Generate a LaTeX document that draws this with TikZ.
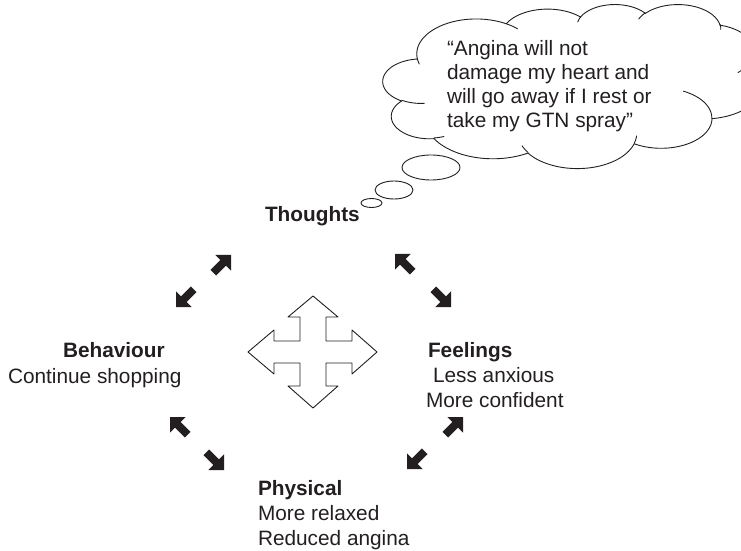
\documentclass[tikz,border=0pt]{standalone}
\usepackage{fontspec}
\setmainfont{Liberation Sans}
\definecolor{ink}{HTML}{231F20}

% Cloud outline geometry (unit box), one elliptic arc per puff.
% #1,#2 = radii, #3 = start angle, #4 = sweep (visual angles, y downwards).
\def\cloudX{383}\def\cloudY{4}\def\cloudW{380}\def\cloudH{164}
\newcommand\cloudarc[4]{%
  \pgfmathsetmacro\tA{atan2((#1)*sin(#3),(#2)*cos(#3))}%
  \pgfmathsetmacro\tB{atan2((#1)*sin((#3)+(#4)),(#2)*cos((#3)+(#4)))}%
  \pgfmathsetmacro\tB{\tB<\tA ? \tB+360 : \tB}%
  \pgfmathsetmacro\ccx{\cpx-(#1)*cos(\tA)}%
  \pgfmathsetmacro\ccy{\cpy-(#2)*sin(\tA)}%
  \draw[outl] plot[domain=\tA:\tB, samples=40, smooth]
    ({\cloudX+\cloudW*(\ccx+(#1)*cos(\x))},{\cloudY+\cloudH*(\ccy+(#2)*sin(\x))});%
  \pgfmathsetmacro\cpx{\ccx+(#1)*cos(\tB)}%
  \pgfmathsetmacro\cpy{\ccy+(#2)*sin(\tB)}%
}
\newcommand\cloudstroke[6]{%
  \def\cpx{#1}\def\cpy{#2}\cloudarc{#3}{#4}{#5}{#6}}

\begin{document}
\begin{tikzpicture}[x=1bp,y=-1bp,line join=round,line cap=round]
\tikzset{
  lbl/.style={anchor=base west,inner sep=0pt,outer sep=0pt,text=ink,
    font=\fontsize{20.8bp}{25bp}\selectfont},
  hd/.style={lbl,font=\fontsize{20.8bp}{25bp}\selectfont\bfseries},
  outl/.style={draw=ink,line width=0.9bp},
  blockarr/.pic={\fill[ink] (0,0) -- (-11,11) -- (-11,4) -- (-25,4)
      -- (-25,-4) -- (-11,-4) -- (-11,-11) -- cycle;}
}
\useasboundingbox (0,0) rectangle (741,551);
\clip (0,0) rectangle (741,551);

% thought cloud outline
\def\cpx{0.090278}\def\cpy{0.332639}
\cloudarc{0.156319}{0.212731}{-190.4875}{123.7805}
\cloudarc{0.123449}{0.168218}{-144.1024}{89.9452}
\cloudarc{0.101042}{0.137616}{-145.8079}{99.7230}
\cloudarc{0.112431}{0.152662}{-130.9861}{117.2417}
\cloudarc{0.123449}{0.168356}{-78.7089}{109.0269}
\cloudarc{0.156829}{0.213426}{-46.2673}{130.2690}
\cloudarc{0.133912}{0.182106}{0.6250}{114.0333}
\cloudarc{0.156296}{0.213310}{22.4516}{115.1726}
\cloudarc{0.178704}{0.244051}{66.2426}{75.7110}
\cloudarc{0.100926}{0.136991}{-274.9421}{146.7356}
\cloudarc{0.100579}{0.137616}{-246.8285}{152.5189}

% short inner strokes at the notches
\cloudstroke{0.108634}{0.605949}{0.100579}{0.137616}{86.7420}{26.4295}
\cloudstroke{0.160370}{0.807847}{0.100926}{0.136991}{73.6105}{11.4475}
\cloudstroke{0.381435}{0.904861}{0.156296}{0.213310}{137.6242}{14.0811}
\cloudstroke{0.667292}{0.804421}{0.156296}{0.213310}{6.4533}{15.9984}
\cloudstroke{0.790023}{0.531343}{0.133912}{0.182106}{-70.2924}{70.9174}
\cloudstroke{0.967546}{0.355417}{0.123449}{0.168356}{30.3180}{27.7515}
\cloudstroke{0.887130}{0.125602}{0.112431}{0.152662}{-13.7443}{14.8589}
\cloudstroke{0.673102}{0.091481}{0.112431}{0.152662}{-149.1815}{18.1954}
\cloudstroke{0.512523}{0.109259}{0.101042}{0.137616}{-163.4943}{17.6864}
\cloudstroke{0.324074}{0.120185}{0.156319}{0.212731}{-66.7070}{12.3194}
\cloudstroke{0.095532}{0.365486}{0.156319}{0.212731}{157.6544}{11.8582}

% bubbles leading down to the heading
\draw[outl] (431,167.5) ellipse [x radius=29bp,y radius=12.5bp];
\draw[outl] (394,190) ellipse [x radius=19bp,y radius=9bp];
\draw[outl] (371.5,203) ellipse [x radius=10.5bp,y radius=4.5bp];

% text inside the cloud
\node[lbl] (q1) at (447,56) {“Angina will not};
\node[lbl] (q2) at (447,80) {damage my heart and};
\node[lbl] (q3) at (447,104) {will go away if I rest or};
\node[lbl] (q4) at (447,128) {take my GTN spray”};

% the four headings
\node[hd] (thoughts) at (265,222) {Thoughts};
\node[hd] (behav) at (63,357) {Behaviour};
\node[lbl] (behav1) at (8,383) {Continue shopping};
\node[hd] (feel) at (428,357) {Feelings};
\node[lbl] (feel1) at (433,382) {Less anxious};
\node[lbl] (feel2) at (426,407) {More confident};
\node[hd] (phys) at (258,495) {Physical};
\node[lbl] (phys1) at (258,520) {More relaxed};
\node[lbl] (phys2) at (258,545) {Reduced angina};

% central four-way arrow
\draw[outl,fill=white] (313,296) -- (338,317) -- (326,317) -- (326,341)
  -- (352,341) -- (352,330) -- (377,352) -- (352,374) -- (352,363)
  -- (326,363) -- (326,386) -- (338,386) -- (313,408) -- (288,386)
  -- (300,386) -- (300,363) -- (274,363) -- (274,374) -- (248,352)
  -- (274,330) -- (274,341) -- (300,341) -- (300,317) -- (288,317) -- cycle;

% solid two-way arrow pairs
\pic[rotate=45] at (231,255) {blockarr};
\pic[rotate=225] at (176,307) {blockarr};
\pic[rotate=135] at (395,254) {blockarr};
\pic[rotate=-45] at (451,307) {blockarr};
\pic[rotate=135] at (170,417) {blockarr};
\pic[rotate=-45] at (224,470) {blockarr};
\pic[rotate=45] at (463,417) {blockarr};
\pic[rotate=225] at (407,469) {blockarr};
\end{tikzpicture}
\end{document}
